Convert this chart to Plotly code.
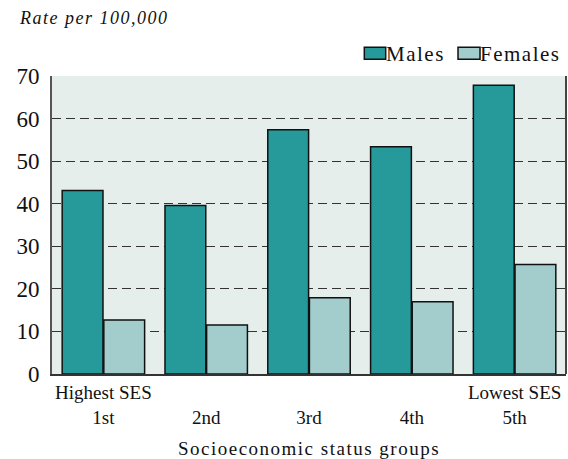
import plotly.graph_objects as go

categories = ["1st", "2nd", "3rd", "4th", "5th"]
tick_labels = ["Highest SES<br>1st", " <br>2nd", " <br>3rd", " <br>4th", "Lowest SES<br>5th"]
males = [43.1, 39.6, 57.4, 53.4, 67.8]
females = [12.7, 11.5, 17.9, 17.0, 25.7]
y_ticks = [0, 10, 20, 30, 40, 50, 60, 70]
series_names = ["Males", "Females"]
series_colors = ["#269a9b", "#a2cdcc"]

serif = "Liberation Serif"

fig = go.Figure()
for name, vals, col in zip(series_names, [males, females], series_colors):
    fig.add_trace(go.Bar(x=categories, y=vals, name=name, showlegend=False,
                         marker=dict(color=col, line=dict(color="#111111", width=1.5))))

fig.update_layout(
    width=568, height=459,
    margin=dict(l=52, r=2, t=76, b=85),
    paper_bgcolor="white",
    plot_bgcolor="#e5eeeb",
    barmode="group",
    bargap=0.19, bargroupgap=0.02,
    font=dict(family=serif, color="#111111"),
    showlegend=False,
    xaxis=dict(tickmode="array", tickvals=categories, ticktext=tick_labels,
               tickfont=dict(size=19, family=serif), showline=True, linecolor="#333333",
               linewidth=2, mirror=False, ticks="",
               title=dict(text='<span style="letter-spacing:1.5px">Socioeconomic status groups</span>',
                          font=dict(size=19, family=serif), standoff=15)),
    yaxis=dict(range=[0, 70], tickvals=y_ticks, tickfont=dict(size=23, family=serif),
               showgrid=True, gridcolor="#333333", griddash="9px,5px", gridwidth=1.3,
               showline=True, linecolor="#555555", linewidth=2, ticks="",
               ticklabelstandoff=6, zeroline=False),
)

# right border of plot area
fig.add_shape(type="line", xref="paper", yref="paper", x0=1, x1=1, y0=0, y1=1,
              line=dict(color="#444444", width=2))

# legend drawn as boxes + labels
legend_box_x = [(0.6076, 0.6492), (0.7899, 0.8327)]
legend_text_x = [0.6455, 0.8290]
for name, col, (bx0, bx1), tx in zip(series_names, series_colors, legend_box_x, legend_text_x):
    fig.add_shape(type="rect", xref="paper", yref="paper", x0=bx0, x1=bx1, y0=1.056, y1=1.0963,
                  fillcolor=col, line=dict(color="#111111", width=1.5))
    fig.add_annotation(text=f'<span style="letter-spacing:1.5px">{name}</span>',
                       xref="paper", yref="paper", x=tx, y=1.073,
                       xanchor="left", yanchor="middle", showarrow=False,
                       font=dict(size=21, family=serif, color="#111111"))

fig.add_annotation(text='<span style="letter-spacing:1.5px"><i>Rate per 100,000</i></span>',
                   xref="paper", yref="paper",
                   x=-0.068, y=1.194, xanchor="left", yanchor="middle",
                   showarrow=False, font=dict(size=18, family=serif, color="#111111"))

fig.write_html("out.html", config={"displayModeBar": False},
               post_script="document.body.style.margin='0';")
